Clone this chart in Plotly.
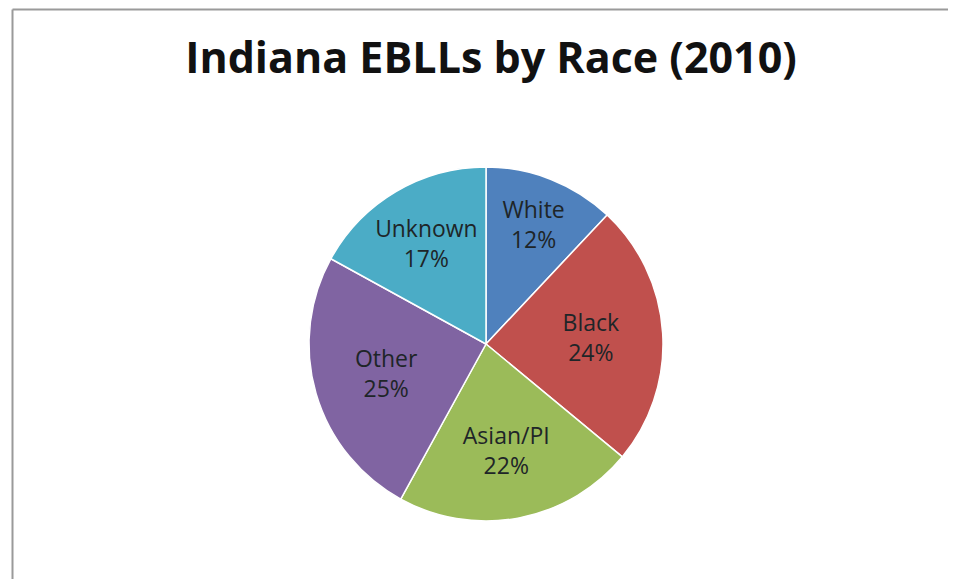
import plotly.graph_objects as go

categories = ["White", "Black", "Asian/PI", "Other", "Unknown"]
values = [12, 24, 22, 25, 17]
colors = ["#4F81BD", "#C0504D", "#9BBB59", "#8064A2", "#4BACC6"]

# page has an 8px body margin on every side; figure sized so nothing overflows the window
W, H = 940, 571
cx, cy, r = 478, 336, 177

fig = go.Figure(go.Pie(
    labels=categories,
    values=values,
    sort=False,
    direction="clockwise",
    rotation=0,
    marker=dict(colors=colors, line=dict(color="white", width=1.5)),
    texttemplate="%{label}<br>%{percent:.0%}",
    textposition="inside",
    insidetextorientation="horizontal",
    textfont=dict(family="Open Sans, sans-serif", size=23, color="#1E2528"),
    showlegend=False,
    hoverinfo="label+percent",
    domain=dict(x=[(cx - r) / W, (cx + r) / W], y=[(H - cy - r) / H, (H - cy + r) / H]),
))

top = 1 - 1.5 / H
left = 4.5 / W
fig.update_layout(
    width=W, height=H,
    margin=dict(l=0, r=0, t=0, b=0),
    paper_bgcolor="white",
    title=dict(text="<b>Indiana EBLLs by Race (2010)</b>", x=483 / W, xanchor="center",
               y=1 - 50 / H, yanchor="middle",
               font=dict(family="Open Sans, sans-serif", size=43, color="#111111")),
    shapes=[
        dict(type="line", xref="paper", yref="paper", x0=left, x1=1.0, y0=top, y1=top,
             line=dict(color="#9A9A9A", width=2)),
        dict(type="line", xref="paper", yref="paper", x0=left, x1=left, y0=0.0, y1=top,
             line=dict(color="#9A9A9A", width=2)),
    ],
)

fig.write_html("out.html")
